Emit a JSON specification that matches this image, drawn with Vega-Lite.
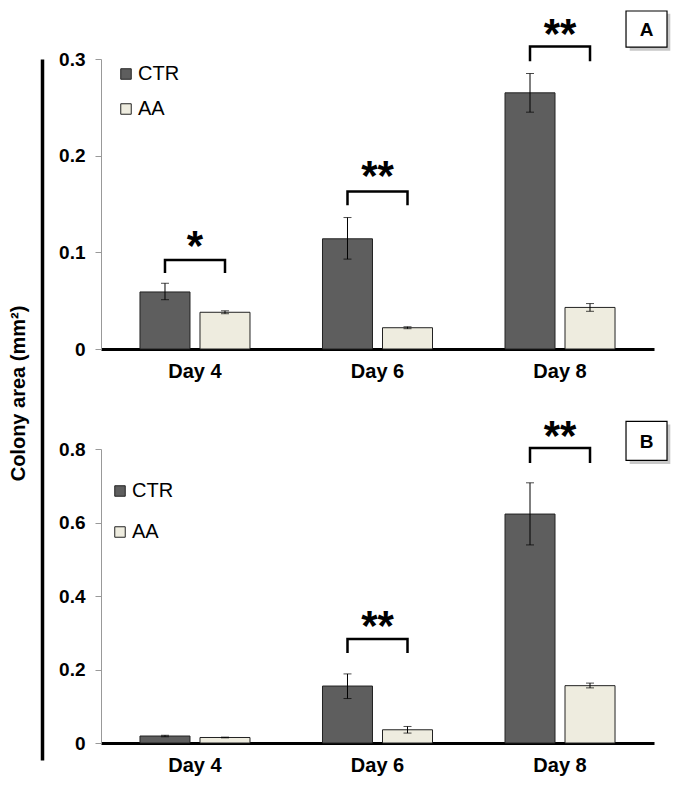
{
  "$schema": "https://vega.github.io/schema/vega-lite/v6.json",
  "padding": {"left": 8, "top": 8, "right": 5, "bottom": 5},
  "config": {"font": "Liberation Sans", "view": {"stroke": null}},
  "datasets": {
    "barsA": [
      {"day": "Day 4", "group": "CTR", "value": 0.059, "lo": 0.051, "hi": 0.068},
      {"day": "Day 4", "group": "AA", "value": 0.038, "lo": 0.0365, "hi": 0.0395},
      {"day": "Day 6", "group": "CTR", "value": 0.114, "lo": 0.093, "hi": 0.136},
      {"day": "Day 6", "group": "AA", "value": 0.022, "lo": 0.021, "hi": 0.023},
      {"day": "Day 8", "group": "CTR", "value": 0.265, "lo": 0.245, "hi": 0.285},
      {"day": "Day 8", "group": "AA", "value": 0.043, "lo": 0.039, "hi": 0.047}
    ],
    "barsB": [
      {"day": "Day 4", "group": "CTR", "value": 0.019, "lo": 0.017, "hi": 0.021},
      {"day": "Day 4", "group": "AA", "value": 0.015, "lo": 0.014, "hi": 0.016},
      {"day": "Day 6", "group": "CTR", "value": 0.155, "lo": 0.121, "hi": 0.188},
      {"day": "Day 6", "group": "AA", "value": 0.036, "lo": 0.027, "hi": 0.045},
      {"day": "Day 8", "group": "CTR", "value": 0.623, "lo": 0.539, "hi": 0.708},
      {"day": "Day 8", "group": "AA", "value": 0.156, "lo": 0.150, "hi": 0.163}
    ],
    "bracketsA": [
      {"day": "Day 4", "group": "CTR", "y": 0.080, "ord": 1},
      {"day": "Day 4", "group": "CTR", "y": 0.092, "ord": 2},
      {"day": "Day 4", "group": "AA", "y": 0.092, "ord": 3},
      {"day": "Day 4", "group": "AA", "y": 0.080, "ord": 4},
      {"day": "Day 6", "group": "CTR", "y": 0.150, "ord": 1},
      {"day": "Day 6", "group": "CTR", "y": 0.163, "ord": 2},
      {"day": "Day 6", "group": "AA", "y": 0.163, "ord": 3},
      {"day": "Day 6", "group": "AA", "y": 0.150, "ord": 4},
      {"day": "Day 8", "group": "CTR", "y": 0.299, "ord": 1},
      {"day": "Day 8", "group": "CTR", "y": 0.313, "ord": 2},
      {"day": "Day 8", "group": "AA", "y": 0.313, "ord": 3},
      {"day": "Day 8", "group": "AA", "y": 0.299, "ord": 4}
    ],
    "bracketsB": [
      {"day": "Day 6", "group": "CTR", "y": 0.248, "ord": 1},
      {"day": "Day 6", "group": "CTR", "y": 0.283, "ord": 2},
      {"day": "Day 6", "group": "AA", "y": 0.283, "ord": 3},
      {"day": "Day 6", "group": "AA", "y": 0.248, "ord": 4},
      {"day": "Day 8", "group": "CTR", "y": 0.765, "ord": 1},
      {"day": "Day 8", "group": "CTR", "y": 0.803, "ord": 2},
      {"day": "Day 8", "group": "AA", "y": 0.803, "ord": 3},
      {"day": "Day 8", "group": "AA", "y": 0.765, "ord": 4}
    ],
    "starsA": [
      {"day": "Day 4", "y": 0.0925, "label": "*"},
      {"day": "Day 6", "y": 0.164, "label": "**"},
      {"day": "Day 8", "y": 0.311, "label": "**"}
    ],
    "starsB": [
      {"day": "Day 6", "y": 0.279, "label": "**"},
      {"day": "Day 8", "y": 0.798, "label": "**"}
    ],
    "boxA": [{"day": "Day 8", "y": 0.331, "label": "A"}],
    "boxB": [{"day": "Day 8", "y": 0.822, "label": "B"}]
  },
  "spacing": 12,
  "hconcat": [
    {
      "width": 1,
      "height": 701,
      "data": {"values": [{"v": 0}, {"v": 1}]},
      "mark": {"type": "point", "opacity": 0},
      "encoding": {
        "y": {
          "field": "v",
          "type": "quantitative",
          "axis": {
            "title": "Colony area (mm²)",
            "domainColor": "black",
            "domainWidth": 3.5,
            "ticks": false,
            "labels": false,
            "grid": false,
            "titleFontSize": 20,
            "titleFontWeight": "bold",
            "titleColor": "black",
            "titlePadding": 14,
            "titleY": 334
          }
        }
      }
    },
    {
      "vconcat": [
        {
          "width": 553,
          "height": 290,
          "encoding": {
            "x": {
              "field": "day",
              "type": "nominal",
              "scale": {"paddingInner": 0, "paddingOuter": 0.015},
              "axis": {
                "title": null,
                "domainColor": "black",
                "domainWidth": 3,
                "ticks": false,
                "labelAngle": 0,
                "labelFontSize": 20,
                "labelFontWeight": "bold",
                "labelColor": "black",
                "labelPadding": 12
              }
            },
            "y": {
              "type": "quantitative",
              "scale": {"domain": [0, 0.3], "nice": false},
              "axis": {
                "title": null,
                "values": [0, 0.1, 0.2, 0.3],
                "format": "~g",
                "grid": false,
                "domainColor": "#999999",
                "tickColor": "#999999",
                "tickSize": 6,
                "labelFontSize": 19,
                "labelFontWeight": "bold",
                "labelColor": "black",
                "labelPadding": 10
              }
            }
          },
          "layer": [
            {
              "data": {"name": "barsA"},
              "mark": {"type": "bar", "stroke": "#222222", "strokeWidth": 1},
              "encoding": {
                "y": {"field": "value", "type": "quantitative"},
                "xOffset": {"field": "group", "sort": ["CTR", "AA"], "scale": {"paddingInner": 0.1667, "paddingOuter": 0.604}},
                "color": {
                  "field": "group",
                  "sort": ["CTR", "AA"],
                  "scale": {"domain": ["CTR", "AA"], "range": ["#5e5e5e", "#eeecdf"]},
                  "legend": {
                    "title": null,
                    "orient": "none",
                    "legendX": 15,
                    "legendY": 5,
                    "padding": 0,
                    "symbolType": "square",
                    "symbolSize": 110,
                    "symbolStrokeColor": "#222222",
                    "symbolStrokeWidth": 1,
                    "labelFontSize": 20,
                    "labelColor": "black",
                    "labelOffset": 2,
                    "rowPadding": 15
                  }
                }
              }
            },
            {
              "data": {"name": "barsA"},
              "mark": {"type": "rule", "color": "black", "strokeWidth": 1},
              "encoding": {
                "xOffset": {"field": "group", "sort": ["CTR", "AA"]},
                "y": {"field": "lo", "type": "quantitative"},
                "y2": {"field": "hi"}
              }
            },
            {
              "data": {"name": "barsA"},
              "mark": {"type": "tick", "color": "black", "size": 8, "thickness": 1},
              "encoding": {
                "xOffset": {"field": "group", "sort": ["CTR", "AA"]},
                "y": {"field": "lo", "type": "quantitative"}
              }
            },
            {
              "data": {"name": "barsA"},
              "mark": {"type": "tick", "color": "black", "size": 8, "thickness": 1},
              "encoding": {
                "xOffset": {"field": "group", "sort": ["CTR", "AA"]},
                "y": {"field": "hi", "type": "quantitative"}
              }
            },
            {
              "data": {"name": "bracketsA"},
              "mark": {"type": "line", "color": "black", "strokeWidth": 2.5, "strokeCap": "square"},
              "encoding": {
                "xOffset": {"field": "group", "sort": ["CTR", "AA"]},
                "y": {"field": "y", "type": "quantitative"},
                "detail": {"field": "day"},
                "order": {"field": "ord", "type": "quantitative"}
              }
            },
            {
              "data": {"name": "starsA"},
              "mark": {"type": "text", "fontSize": 42, "fontWeight": "bold", "color": "black", "baseline": "alphabetic"},
              "encoding": {
                "y": {"field": "y", "type": "quantitative"},
                "text": {"field": "label"}
              }
            },
            {
              "data": {"name": "boxA"},
              "mark": {"type": "point", "filled": true, "color": "#9a9a9a", "opacity": 0.55, "size": 1681, "shape": "M-0.82,-0.74L1.16,-0.74L1.16,1.06L-0.82,1.06Z"},
              "encoding": {
                "x": {"field": "day", "type": "nominal", "bandPosition": 0.974},
                "y": {"field": "y", "type": "quantitative"}
              }
            },
            {
              "data": {"name": "boxA"},
              "mark": {"type": "point", "filled": true, "fill": "white", "stroke": "black", "strokeWidth": 1.2, "opacity": 1, "size": 1681, "shape": "M-1,-0.88L1,-0.88L1,0.88L-1,0.88Z"},
              "encoding": {
                "x": {"field": "day", "type": "nominal", "bandPosition": 0.974},
                "y": {"field": "y", "type": "quantitative"}
              }
            },
            {
              "data": {"name": "boxA"},
              "mark": {"type": "text", "fontSize": 19, "fontWeight": "bold", "color": "black", "baseline": "middle", "dy": 1},
              "encoding": {
                "x": {"field": "day", "type": "nominal", "bandPosition": 0.974},
                "y": {"field": "y", "type": "quantitative"},
                "text": {"field": "label"}
              }
            }
          ]
        },
        {
          "width": 553,
          "height": 294,
          "encoding": {
            "x": {
              "field": "day",
              "type": "nominal",
              "scale": {"paddingInner": 0, "paddingOuter": 0.015},
              "axis": {
                "title": null,
                "domainColor": "black",
                "domainWidth": 3,
                "ticks": false,
                "labelAngle": 0,
                "labelFontSize": 20,
                "labelFontWeight": "bold",
                "labelColor": "black",
                "labelPadding": 12
              }
            },
            "y": {
              "type": "quantitative",
              "scale": {"domain": [0, 0.8], "nice": false},
              "axis": {
                "title": null,
                "values": [0, 0.2, 0.4, 0.6, 0.8],
                "format": "~g",
                "grid": false,
                "domainColor": "#999999",
                "tickColor": "#999999",
                "tickSize": 6,
                "labelFontSize": 19,
                "labelFontWeight": "bold",
                "labelColor": "black",
                "labelPadding": 10
              }
            }
          },
          "layer": [
            {
              "data": {"name": "barsB"},
              "mark": {"type": "bar", "stroke": "#222222", "strokeWidth": 1},
              "encoding": {
                "y": {"field": "value", "type": "quantitative"},
                "xOffset": {"field": "group", "sort": ["CTR", "AA"], "scale": {"paddingInner": 0.1667, "paddingOuter": 0.604}},
                "color": {
                  "field": "group",
                  "sort": ["CTR", "AA"],
                  "scale": {"domain": ["CTR", "AA"], "range": ["#5e5e5e", "#eeecdf"]},
                  "legend": {
                    "title": null,
                    "orient": "none",
                    "legendX": 9,
                    "legendY": 32,
                    "padding": 0,
                    "symbolType": "square",
                    "symbolSize": 110,
                    "symbolStrokeColor": "#222222",
                    "symbolStrokeWidth": 1,
                    "labelFontSize": 20,
                    "labelColor": "black",
                    "labelOffset": 2,
                    "rowPadding": 21
                  }
                }
              }
            },
            {
              "data": {"name": "barsB"},
              "mark": {"type": "rule", "color": "black", "strokeWidth": 1},
              "encoding": {
                "xOffset": {"field": "group", "sort": ["CTR", "AA"]},
                "y": {"field": "lo", "type": "quantitative"},
                "y2": {"field": "hi"}
              }
            },
            {
              "data": {"name": "barsB"},
              "mark": {"type": "tick", "color": "black", "size": 8, "thickness": 1},
              "encoding": {
                "xOffset": {"field": "group", "sort": ["CTR", "AA"]},
                "y": {"field": "lo", "type": "quantitative"}
              }
            },
            {
              "data": {"name": "barsB"},
              "mark": {"type": "tick", "color": "black", "size": 8, "thickness": 1},
              "encoding": {
                "xOffset": {"field": "group", "sort": ["CTR", "AA"]},
                "y": {"field": "hi", "type": "quantitative"}
              }
            },
            {
              "data": {"name": "bracketsB"},
              "mark": {"type": "line", "color": "black", "strokeWidth": 2.5, "strokeCap": "square"},
              "encoding": {
                "xOffset": {"field": "group", "sort": ["CTR", "AA"]},
                "y": {"field": "y", "type": "quantitative"},
                "detail": {"field": "day"},
                "order": {"field": "ord", "type": "quantitative"}
              }
            },
            {
              "data": {"name": "starsB"},
              "mark": {"type": "text", "fontSize": 42, "fontWeight": "bold", "color": "black", "baseline": "alphabetic"},
              "encoding": {
                "y": {"field": "y", "type": "quantitative"},
                "text": {"field": "label"}
              }
            },
            {
              "data": {"name": "boxB"},
              "mark": {"type": "point", "filled": true, "color": "#9a9a9a", "opacity": 0.55, "size": 1681, "shape": "M-0.82,-0.8L1.16,-0.8L1.16,1.12L-0.82,1.12Z"},
              "encoding": {
                "x": {"field": "day", "type": "nominal", "bandPosition": 0.974},
                "y": {"field": "y", "type": "quantitative"}
              }
            },
            {
              "data": {"name": "boxB"},
              "mark": {"type": "point", "filled": true, "fill": "white", "stroke": "black", "strokeWidth": 1.2, "opacity": 1, "size": 1681, "shape": "M-1,-0.95L1,-0.95L1,0.95L-1,0.95Z"},
              "encoding": {
                "x": {"field": "day", "type": "nominal", "bandPosition": 0.974},
                "y": {"field": "y", "type": "quantitative"}
              }
            },
            {
              "data": {"name": "boxB"},
              "mark": {"type": "text", "fontSize": 19, "fontWeight": "bold", "color": "black", "baseline": "middle", "dy": 1},
              "encoding": {
                "x": {"field": "day", "type": "nominal", "bandPosition": 0.974},
                "y": {"field": "y", "type": "quantitative"},
                "text": {"field": "label"}
              }
            }
          ]
        }
      ],
      "spacing": 100,
      "bounds": "flush",
      "resolve": {"scale": {"y": "independent", "x": "independent"}, "legend": {"color": "independent"}}
    }
  ]
}
